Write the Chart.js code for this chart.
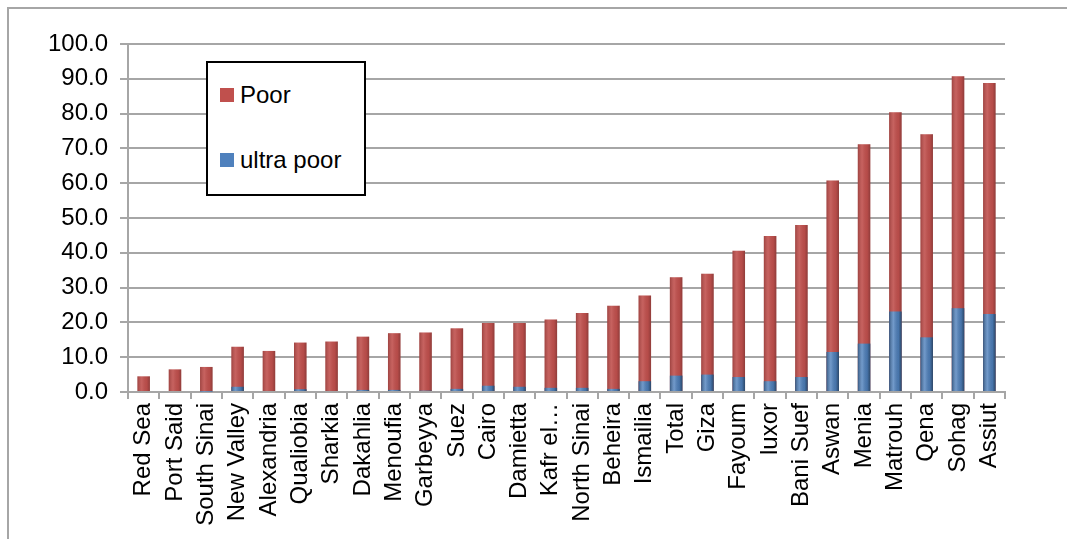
<!DOCTYPE html>
<html>
<head>
<meta charset="utf-8">
<script src="https://cdn.jsdelivr.net/npm/chart.js@4"></script>
<style>
    body { margin: 0; background: #fff; font-family: "Liberation Sans", Arial, sans-serif; }
    #wrap { position: relative; width: 1067px; height: 539px; }
    #frame { position: absolute; left: 7px; top: 7px; right: 0; bottom: 0;
             border-top: 2px solid #a6a6a6; border-left: 2px solid #a6a6a6; }
    #legend { position: absolute; left: 206px; top: 61px; width: 156px; height: 131px;
              border: 2px solid #000; background: #fff; font-size: 24px; color: #000; }
    .item { position: absolute; left: 12px; display: flex; align-items: center; }
    .item span.box { width: 14px; height: 14px; margin-right: 6px; }
</style>
</head>
<body>
<div id="wrap">
    <div id="frame"></div>
    <canvas id="povertyChart" width="1067" height="539"></canvas>
    <div id="legend">
        <div class="item" style="top: 18px"><span class="box" style="background:#c0504d"></span>Poor</div>
        <div class="item" style="top: 83px"><span class="box" style="background:#4f81bd"></span>ultra poor</div>
    </div>
</div>
<script>
const governorates = [
    "Red Sea", "Port Said", "South Sinai", "New Valley", "Alexandria", "Qualiobia",
    "Sharkia", "Dakahlia", "Menoufia", "Garbeyya", "Suez", "Cairo", "Damietta",
    "Kafr el…", "North Sinai", "Beheira", "Ismailia", "Total", "Giza", "Fayoum",
    "luxor", "Bani Suef", "Aswan", "Menia", "Matrouh", "Qena", "Sohag", "Assiut"
];

// bar height of the red column (poor)
const poor = [
    4.5, 6.5, 7.2, 13.0, 11.8, 14.2, 14.5, 15.9, 16.9, 17.1, 18.3, 19.8, 19.8,
    20.8, 22.7, 24.8, 27.7, 33.0, 34.0, 40.6, 44.8, 48.0, 60.8, 71.2, 80.4, 74.1,
    90.7, 88.8
];

// blue part at the bottom (ultra poor)
const ultraPoor = [
    0.0, 0.0, 0.1, 1.5, 0.3, 0.8, 0.3, 0.6, 0.6, 0.4, 0.9, 1.8, 1.5,
    1.2, 1.2, 0.9, 3.1, 4.7, 5.0, 4.3, 3.1, 4.3, 11.5, 13.9, 23.1, 15.7,
    24.1, 22.4
];

const yTicks = [0, 10, 20, 30, 40, 50, 60, 70, 80, 90, 100];

/**
 * shading so the flat bars look a bit like the cylinders
 */
const cylinderShade = {
    id: "cylinderShade",
    afterDatasetsDraw(chart) {
        const ctx = chart.ctx;
        chart.data.datasets.forEach((ds, i) => {
            const meta = chart.getDatasetMeta(i);
            meta.data.forEach((bar) => {
                const left = bar.x - bar.width / 2;
                const top = Math.min(bar.y, bar.base);
                const h = Math.abs(bar.base - bar.y);
                if (h <= 0) return;
                const g = ctx.createLinearGradient(left, 0, left + bar.width, 0);
                g.addColorStop(0, "rgba(0,0,0,0.18)");
                g.addColorStop(0.35, "rgba(255,255,255,0.10)");
                g.addColorStop(0.75, "rgba(0,0,0,0.05)");
                g.addColorStop(1, "rgba(0,0,0,0.25)");
                ctx.save();
                ctx.fillStyle = g;
                ctx.fillRect(left, top, bar.width, h);
                ctx.restore();
            });
        });
    },
};

const data = {
    labels: governorates,
    datasets: [
        {
            label: "ultra poor",
            data: ultraPoor,
            backgroundColor: "#4f81bd",
            barPercentage: 0.4,
            categoryPercentage: 1,
            order: 0,
        },
        {
            label: "Poor",
            data: poor,
            backgroundColor: "#c0504d",
            barPercentage: 0.4,
            categoryPercentage: 1,
            order: 1,
        },
    ],
};

const config = {
    type: "bar",
    data: data,
    options: {
        responsive: false,
        animation: false,
        layout: {
            padding: { left: 8, right: 62, top: 44, bottom: 0 },
        },
        scales: {
            x: {
                stacked: true,
                afterFit: (scale) => { scale.height = 147; },
                border: { color: "#a6a6a6", width: 2 },
                grid: {
                    drawOnChartArea: false,
                    color: "#a6a6a6",
                    lineWidth: 2,
                    tickLength: 7,
                },
                ticks: {
                    autoSkip: false,
                    minRotation: 90,
                    maxRotation: 90,
                    padding: 4,
                    color: "#000",
                    font: { family: "'Liberation Sans', Arial, sans-serif", size: 24 },
                },
            },
            y: {
                stacked: false,
                min: 0,
                max: 100,
                afterFit: (scale) => { scale.width = 120; },
                afterBuildTicks: (scale) => {
                    scale.ticks = yTicks.map((v) => ({ value: v }));
                },
                border: { color: "#a6a6a6", width: 2 },
                grid: {
                    color: "#a6a6a6",
                    lineWidth: 2,
                    tickLength: 8,
                },
                ticks: {
                    padding: 12,
                    color: "#000",
                    font: { family: "'Liberation Sans', Arial, sans-serif", size: 24 },
                    callback: (v) => Number(v).toFixed(1),
                },
            },
        },
        plugins: {
            legend: { display: false },
            tooltip: { enabled: false },
        },
    },
    plugins: [cylinderShade],
};

new Chart(document.getElementById("povertyChart"), config);
</script>
</body>
</html>
